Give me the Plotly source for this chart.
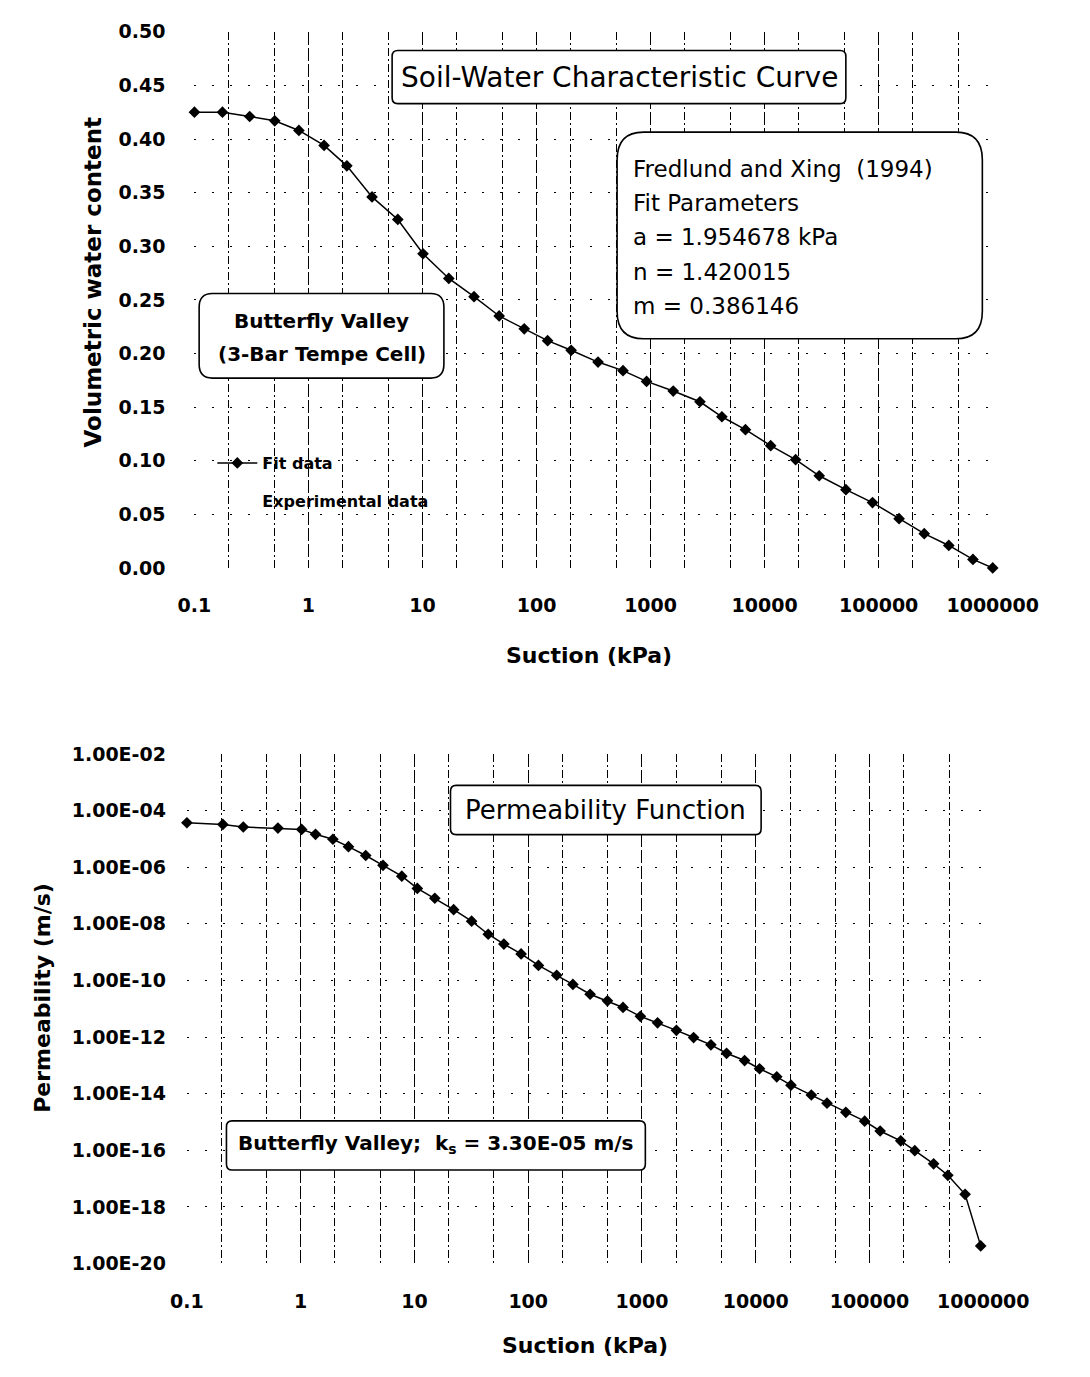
import plotly.graph_objects as go

# figure is sized so that, with the page's default 8px body margin, it fills the 1090x1377 window
OFF = 8
W, H = 1090 - 2 * OFF, 1377 - 2 * OFF - 1

# ---------------- data ----------------
swcc_suction = [0.1, 0.176, 0.305, 0.506, 0.824, 1.37, 2.17, 3.61, 6.07, 10.1, 17.0, 28.3,
                47.0, 78.0, 125, 201, 346, 573, 922, 1580, 2710, 4220, 6790, 11300, 18700,
                30100, 51600, 88300, 151000, 251000, 412000, 671000, 1000000]
swcc_theta = [0.425, 0.425, 0.421, 0.417, 0.408, 0.394, 0.375, 0.346, 0.325, 0.293, 0.270, 0.253,
              0.235, 0.223, 0.212, 0.203, 0.192, 0.184, 0.174, 0.165, 0.155, 0.141, 0.129, 0.114,
              0.101, 0.086, 0.073, 0.061, 0.046, 0.032, 0.021, 0.008, 0.0]

perm_suction = [0.1, 0.207, 0.313, 0.631, 1.02, 1.35, 1.92, 2.63, 3.73, 5.29, 7.74, 10.6, 15.1,
                22.1, 31.8, 44.5, 61.1, 86.6, 123, 178, 247, 350, 497, 681, 968, 1371, 2007,
                2843, 4036, 5540, 7980, 10790, 15300, 20400, 30800, 42300, 61900, 90600,
                124000, 188000, 250000, 366000, 488000, 692000, 949000]
perm_k = [3.70e-5, 3.23e-5, 2.62e-5, 2.4e-5, 2.16e-5, 1.45e-5, 9.7e-6, 5.3e-6, 2.58e-6, 1.16e-6,
          4.8e-7, 1.78e-7, 8.0e-8, 3.16e-8, 1.24e-8, 4.28e-9, 1.92e-9, 8.6e-10, 3.39e-10,
          1.52e-10, 7.2e-11, 3.25e-11, 1.90e-11, 1.11e-11, 5.4e-12, 3.19e-12, 1.72e-12, 9.6e-13,
          5.3e-13, 2.67e-13, 1.48e-13, 7.6e-14, 3.92e-14, 2.0e-14, 8.98e-15, 4.62e-15, 2.2e-15,
          1.07e-15, 4.8e-16, 2.16e-16, 9.7e-17, 3.32e-17, 1.31e-17, 2.78e-18, 4.2e-20]

x_tickvals = [0.1, 1, 10, 100, 1000, 10000, 100000, 1000000]
x_ticktext = ["0.1", "1", "10", "100", "1000", "10000", "100000", "1000000"]
theta_tickvals = [0.0, 0.05, 0.10, 0.15, 0.20, 0.25, 0.30, 0.35, 0.40, 0.45, 0.50]
theta_ticktext = ["0.00", "0.05", "0.10", "0.15", "0.20", "0.25", "0.30", "0.35", "0.40", "0.45", "0.50"]
k_tickvals = [1e-2, 1e-4, 1e-6, 1e-8, 1e-10, 1e-12, 1e-14, 1e-16, 1e-18, 1e-20]
k_ticktext = ["1.00E-02", "1.00E-04", "1.00E-06", "1.00E-08", "1.00E-10", "1.00E-12",
              "1.00E-14", "1.00E-16", "1.00E-18", "1.00E-20"]

FONT = "DejaVu Sans"

fig = go.Figure()
fig.add_trace(go.Scatter(
    x=swcc_suction, y=swcc_theta, mode="lines+markers", name="Fit data",
    line=dict(color="black", width=1.5),
    marker=dict(symbol="diamond", size=9, color="black"), cliponaxis=False,
    xaxis="x", yaxis="y", legendgroup="fit", showlegend=True))
fig.add_trace(go.Scatter(
    x=[None], y=[None], mode="markers", name="Experimental data",
    marker=dict(symbol="square-open", size=8, color="rgba(0,0,0,0)"),
    xaxis="x", yaxis="y", legendgroup="exp", showlegend=True))
fig.add_trace(go.Scatter(
    x=perm_suction, y=perm_k, mode="lines+markers", name="Permeability",
    line=dict(color="black", width=1.5),
    marker=dict(symbol="diamond", size=9, color="black"), cliponaxis=False,
    xaxis="x2", yaxis="y2", showlegend=False))


def px_x(s):
    """window pixel -> paper fraction"""
    return (s - OFF) / W


def px_y(s):
    return 1 - (s - OFF) / H


grid_common = dict(gridcolor="black", gridwidth=1.3, griddash="2px,16px")
minor_x = dict(dtick="D2", showgrid=True, gridcolor="black", gridwidth=1.3,
               griddash="8px,3px,2px,3px")

xaxis_common = dict(
    type="log", range=[-1, 6], tickvals=x_tickvals, ticktext=x_ticktext,
    tickfont=dict(family=FONT, size=19, color="black", weight="bold"),
    showline=False, zeroline=False, ticks="", ticklabelstandoff=24,
    showgrid=True, gridcolor="black", gridwidth=1.2, griddash="3px,5px",
    minor=minor_x)

fig.update_layout(
    width=W, height=H, margin=dict(l=0, r=0, t=0, b=0),
    paper_bgcolor="white", plot_bgcolor="white",
    xaxis=dict(domain=[px_x(188), px_x(1036)], anchor="y", **xaxis_common),
    yaxis=dict(domain=[px_y(566), px_y(21)], anchor="x", range=[0, 0.5],
               tickvals=theta_tickvals, ticktext=theta_ticktext,
               tickfont=dict(family=FONT, size=19, color="black", weight="bold"),
               showline=False, zeroline=False, ticks="", ticklabelstandoff=28,
               showgrid=True, **grid_common),
    xaxis2=dict(domain=[px_x(180), px_x(1026)], anchor="y2", **xaxis_common),
    yaxis2=dict(domain=[px_y(1273), px_y(755)], anchor="x2", type="log", range=[-20, -2],
                tickvals=k_tickvals, ticktext=k_ticktext,
                tickfont=dict(family=FONT, size=19, color="black", weight="bold"),
                showline=False, zeroline=False, ticks="", ticklabelstandoff=20,
                showgrid=True, **grid_common),
    legend=dict(x=px_x(207), y=px_y(442), xanchor="left", yanchor="top",
                font=dict(family=FONT, size=16, color="black", weight="bold"),
                bgcolor="rgba(0,0,0,0)", itemwidth=40, tracegroupgap=14),
)


def rrect(x0, y0, x1, y1, r):
    def P(x, y):
        return f"{px_x(x):.5f},{px_y(y):.5f}"
    return (f"M {P(x0 + r, y0)} L {P(x1 - r, y0)} Q {P(x1, y0)} {P(x1, y0 + r)} "
            f"L {P(x1, y1 - r)} Q {P(x1, y1)} {P(x1 - r, y1)} L {P(x0 + r, y1)} "
            f"Q {P(x0, y1)} {P(x0, y1 - r)} L {P(x0, y0 + r)} Q {P(x0, y0)} {P(x0 + r, y0)} Z")


boxes = [
    (398, 40, 880, 94, 6),      # Soil-Water Characteristic Curve
    (637, 123, 1025, 333, 28),  # Fredlund and Xing parameters
    (193, 287, 453, 373, 14),   # Butterfly Valley (3-Bar Tempe Cell)
    (460, 787, 790, 837, 6),    # Permeability Function
    (222, 1128, 667, 1178, 6),  # Butterfly Valley; ks
]
for (x0, y0, x1, y1, r) in boxes:
    fig.add_shape(type="path", path=rrect(x0, y0, x1, y1, r), xref="paper", yref="paper",
                  line=dict(color="black", width=1.6), fillcolor="white", layer="above")


def label(text, x, y, size, bold=False, xanchor="center", angle=0):
    fig.add_annotation(text=text, x=px_x(x), y=px_y(y), xref="paper", yref="paper",
                       xanchor=xanchor, yanchor="middle", showarrow=False, textangle=angle,
                       font=dict(family=FONT, size=size, color="black",
                                 weight="bold" if bold else "normal"))


label("Soil-Water Characteristic Curve", 640, 67, 28)
fred_lines = ["Fredlund and Xing  (1994)", "Fit Parameters", "a = 1.954678 kPa",
              "n = 1.420015", "m = 0.386146"]
for i, t in enumerate(fred_lines):
    label(t, 652, 160 + 35 * i, 23, xanchor="left")
label("Butterfly Valley", 323, 315, 20, bold=True)
label("(3-Bar Tempe Cell)", 323, 348, 20, bold=True)
label("Permeability Function", 625, 812, 26)
label("Butterfly Valley;  k<sub>s</sub> = 3.30E-05 m/s", 444, 1152, 20, bold=True)

label("Volumetric water content", 80, 275, 23, bold=True, angle=-90)
label("Suction (kPa)", 607, 655, 22, bold=True)
label("Permeability (m/s)", 27, 1003, 22, bold=True, angle=-90)
label("Suction (kPa)", 603, 1356, 22, bold=True)

fig.write_html("out.html")
